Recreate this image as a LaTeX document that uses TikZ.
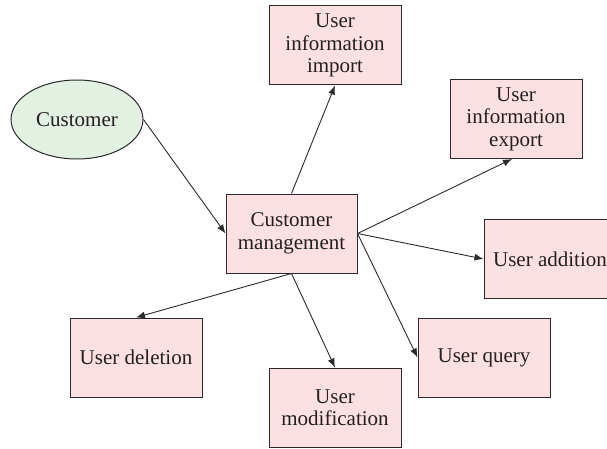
\documentclass[tikz,border=0pt]{standalone}
\usepackage{fontspec}
\newfontfamily\diagfont{Liberation Serif}
\usetikzlibrary{arrows.meta,shapes.geometric}
\definecolor{boxfill}{HTML}{FDE1E2}
\definecolor{ellfill}{HTML}{E3F1E3}
\definecolor{edge}{HTML}{2A2A2A}
\definecolor{ink}{HTML}{231F20}
\tikzset{
  box/.style={draw=edge, fill=boxfill, text=ink, line width=1pt, rectangle, minimum width=132pt, minimum height=79pt, inner sep=0pt, align=center, font=\diagfont\fontsize{21}{22.5}\selectfont},
  ell/.style={draw=edge, fill=ellfill, text=ink, line width=1pt, ellipse, minimum width=132pt, minimum height=79pt, inner sep=0pt, font=\diagfont\fontsize{21}{22.5}\selectfont},
  conn/.style={draw=edge, line width=0.9pt, -{Latex[length=9pt,width=7pt]}}
}
\begin{document}
\begin{tikzpicture}[x=1pt,y=-1pt]
\useasboundingbox (0,0) rectangle (607,449);
\node[ell] (cust) at (77,119.5) {Customer};
\node[box, minimum width=131pt] (mgmt) at (291.5,233.5) {Customer\\management};
\node[box] (imp) at (335,45.5) {User\\information\\import};
\node[box] (exp) at (516,119) {User\\information\\export};
\node[box] (add) at (550,259) {User addition};
\node[box] (del) at (136,357.5) {User deletion};
\node[box] (mod) at (335,407.5) {User\\modification};
\node[box] (qry) at (484,357.5) {User query};
\draw[conn] (cust.east) -- (mgmt.west);
\draw[conn] (mgmt.north) -- (imp.south);
\draw[conn] (mgmt.east) -- ([xshift=-4pt]exp.south);
\draw[conn] (mgmt.east) -- (add.west);
\draw[conn] (mgmt.east) -- (qry.west);
\draw[conn] (mgmt.south) -- (del.north);
\draw[conn] (mgmt.south) -- (mod.north);
\end{tikzpicture}
\end{document}
